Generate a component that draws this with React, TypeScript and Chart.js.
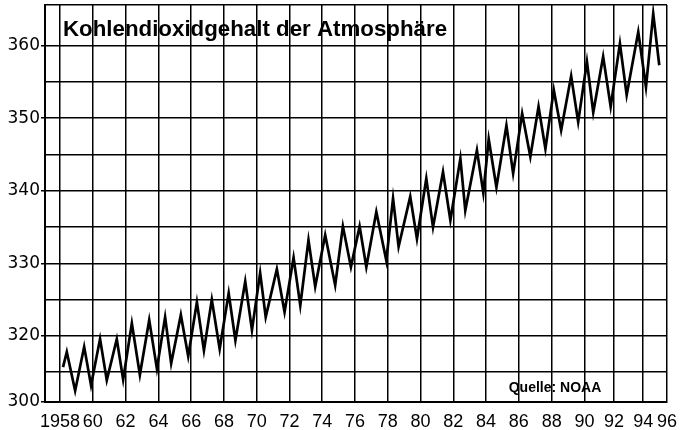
import React, { useEffect, useRef } from 'react';
import { Chart, registerables, LinearScale } from 'chart.js';

Chart.register(...registerables);

const TITLE = 'Kohlendioxidgehalt der Atmosphäre';
const SOURCE = 'Quelle: NOAA';

// Peaks and troughs of the seasonal cycle (year, ppm)
const YEARS = [
  1958.18, 1958.41, 1958.92, 1959.47, 1959.89, 1960.44, 1960.85, 1961.46, 1961.85,
  1962.38, 1962.87, 1963.44, 1963.91, 1964.41, 1964.78, 1965.37, 1965.82, 1966.35,
  1966.78, 1967.26, 1967.74, 1968.29, 1968.7, 1969.3, 1969.71, 1970.21, 1970.55,
  1971.23, 1971.7, 1972.25, 1972.66, 1973.16, 1973.57, 1974.18, 1974.79, 1975.26,
  1975.75, 1976.28, 1976.69, 1977.3, 1977.91, 1978.32, 1978.66, 1979.37, 1979.78,
  1980.35, 1980.76, 1981.37, 1981.82, 1982.43, 1982.73, 1983.44, 1983.83, 1984.16,
  1984.63, 1985.24, 1985.65, 1986.2, 1986.7, 1987.2, 1987.62, 1988.13, 1988.58,
  1989.19, 1989.62, 1990.17, 1990.6, 1991.27, 1991.78, 1992.41, 1992.87, 1993.66,
  1994.23, 1994.84, 1995.35,
];
const CO2 = [
  315.7, 317.8, 312.45, 318.5, 313.2, 319.6, 313.9, 319.55, 314.0,
  321.75, 314.65, 322.2, 315.5, 322.6, 316.2, 322.9, 317.2, 324.65,
  318.0, 325.0, 318.2, 325.9, 319.4, 327.5, 320.8, 328.7, 322.6,
  329.2, 323.3, 330.8, 324.2, 333.2, 326.8, 333.9, 327.0, 335.1,
  329.5, 335.1, 329.5, 337.1, 330.4, 338.95, 332.3, 339.2, 333.4,
  341.7, 335.0, 342.6, 335.95, 344.45, 337.3, 345.6, 339.7, 347.1,
  340.5, 349.0, 342.4, 350.65, 344.7, 351.6, 345.8, 353.9, 348.35,
  355.8, 349.5, 357.8, 350.8, 358.5, 351.6, 360.3, 353.2, 361.9,
  354.3, 364.4, 357.3,
];

const X_TICKS = [
  1958, 1960, 1962, 1964, 1966, 1968, 1970, 1972, 1974, 1976,
  1978, 1980, 1982, 1984, 1986, 1988, 1990, 1992, 1994, 1996,
];
const X_TICK_LABELS = [
  '1958', '60', '62', '64', '66', '68', '70', '72', '74', '76',
  '78', '80', '82', '84', '86', '88', '90', '92', '94', '96',
];
const Y_GRID = [315, 320, 325, 330, 335, 340, 345, 350, 355, 360];
const Y_LABELED = [320, 330, 340, 350, 360];
const Y_BREAK_LABEL = '300';

// axis extents (axis is broken at the bottom, labelled 300)
const X_MIN = 1957.08;
const X_MAX = 1996;
const Y_MIN = 310.9;
const Y_MAX = 365.6;

// the printed time axis is drawn with uneven spacing after 1990
const X_SEGMENTS: [number, number][] = [
  [1958, 0], [1990, 32], [1992, 33.8], [1994, 35.59], [1996, 37.04],
];
function warp(v: number) {
  const s = X_SEGMENTS;
  if (v <= s[0][0]) return s[0][1] + (v - s[0][0]);
  for (let i = 1; i < s.length; i++) {
    if (v <= s[i][0]) {
      const t = (v - s[i - 1][0]) / (s[i][0] - s[i - 1][0]);
      return s[i - 1][1] + t * (s[i][1] - s[i - 1][1]);
    }
  }
  const n = s.length - 1;
  return s[n][1] + (v - s[n][0]) * ((s[n][1] - s[n - 1][1]) / (s[n][0] - s[n - 1][0]));
}
function unwarp(u: number) {
  const s = X_SEGMENTS;
  if (u <= s[0][1]) return s[0][0] + (u - s[0][1]);
  for (let i = 1; i < s.length; i++) {
    if (u <= s[i][1]) {
      const t = (u - s[i - 1][1]) / (s[i][1] - s[i - 1][1]);
      return s[i - 1][0] + t * (s[i][0] - s[i - 1][0]);
    }
  }
  const n = s.length - 1;
  return s[n][0] + (u - s[n][1]) * ((s[n][0] - s[n - 1][0]) / (s[n][1] - s[n - 1][1]));
}

class SegmentedScale extends LinearScale {
  static id = 'segmented';
  static defaults = {};
  getPixelForValue(value: any) {
    if (value === null || value === undefined || isNaN(value)) return NaN;
    const a = warp(this.min);
    const b = warp(this.max);
    return this.getPixelForDecimal((warp(value) - a) / (b - a));
  }
  getValueForPixel(pixel: number) {
    const a = warp(this.min);
    const b = warp(this.max);
    return unwarp(a + this.getDecimalForPixel(pixel) * (b - a));
  }
}
Chart.register(SegmentedScale as any);

const FONT = '"Liberation Sans", Arial, Helvetica, sans-serif';
const WIDE = '"DejaVu Sans", Verdana, sans-serif';

const overlayText = {
  id: 'overlayText',
  afterDraw(chart: any) {
    const { ctx, chartArea } = chart;
    ctx.save();
    ctx.fillStyle = '#000';
    ctx.textBaseline = 'alphabetic';
    ctx.textAlign = 'left';
    ctx.font = `bold 22.3px ${FONT}`;
    ctx.fillText(TITLE, chartArea.left + 18, chartArea.top + 31);
    ctx.textAlign = 'center';
    ctx.font = `bold 14px ${FONT}`;
    ctx.fillText(SOURCE, chartArea.left + 510, chartArea.bottom - 10);
    ctx.restore();
  },
};

export default function App() {
  const ref = useRef<HTMLCanvasElement | null>(null);
  useEffect(() => {
    if (!ref.current) return;
    const chart = new Chart(ref.current, {
      type: 'line',
      data: {
        datasets: [
          {
            data: YEARS.map((x, i) => ({ x, y: CO2[i] })),
            borderColor: '#000',
            borderWidth: 2.7,
            pointRadius: 0,
            tension: 0,
            fill: false,
          },
        ],
      },
      options: {
        animation: false,
        responsive: true,
        maintainAspectRatio: false,
        events: [],
        layout: { padding: { top: 5, right: 18, left: 0, bottom: 0 } },
        plugins: { legend: { display: false }, tooltip: { enabled: false }, title: { display: false } },
        scales: {
          x: {
            type: 'segmented' as any,
            min: X_MIN,
            max: X_MAX,
            afterBuildTicks: (s: any) => {
              s.ticks = [X_MIN, ...X_TICKS].map((v) => ({ value: v }));
            },
            afterFit: (s: any) => {
              s.height = 28;
              s.paddingLeft = 0;
              s.paddingRight = 0;
              s.paddingTop = 0;
              s.paddingBottom = 0;
            },
            grid: { color: '#000', lineWidth: 1.5, drawTicks: false },
            border: { color: '#000', width: 2 },
            ticks: {
              autoSkip: false,
              maxRotation: 0,
              minRotation: 0,
              padding: 9,
              color: '#000',
              font: { family: FONT, size: 18 },
              callback: (v: any) => {
                const i = X_TICKS.indexOf(Number(v));
                return i >= 0 ? X_TICK_LABELS[i] : '';
              },
            },
          },
          y: {
            type: 'linear',
            min: Y_MIN,
            max: Y_MAX,
            afterBuildTicks: (s: any) => {
              s.ticks = [Y_MIN, ...Y_GRID, Y_MAX].map((v) => ({ value: v }));
            },
            afterFit: (s: any) => {
              s.width = 45;
              s.paddingLeft = 0;
              s.paddingRight = 0;
              s.paddingTop = 0;
              s.paddingBottom = 0;
            },
            grid: {
              color: '#000',
              lineWidth: 1.5,
              tickLength: 4,
              tickColor: (c: any) =>
                c.tick && (Y_LABELED.includes(c.tick.value) || c.tick.value === Y_MIN)
                  ? '#000'
                  : 'rgba(0,0,0,0)',
            },
            border: { color: '#000', width: 2 },
            ticks: {
              autoSkip: false,
              padding: 1,
              color: '#000',
              font: { family: WIDE, size: 17 },
              callback: (v: any) => {
                const n = Number(v);
                if (n === Y_MIN) return Y_BREAK_LABEL;
                return Y_LABELED.includes(n) ? String(n) : '';
              },
            },
          },
        },
      },
      plugins: [overlayText],
    });
    return () => chart.destroy();
  }, []);
  return (
    <div style={{ position: 'absolute', left: 0, top: 0, width: 685, height: 430, background: '#fff' }}>
      <canvas ref={ref} style={{ display: 'block' }} />
    </div>
  );
}
